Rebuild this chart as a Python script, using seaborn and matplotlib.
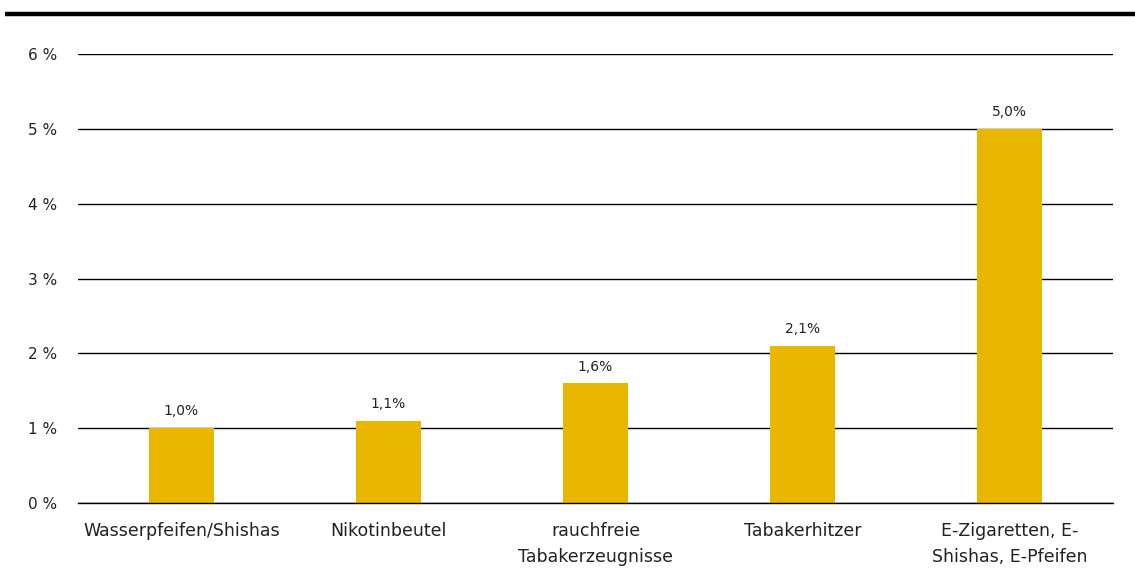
import seaborn as sns
import matplotlib.pyplot as plt
import pandas as pd
from matplotlib.lines import Line2D

categories = ["Wasserpfeifen/Shishas", "Nikotinbeutel", "rauchfreie\nTabakerzeugnisse",
              "Tabakerhitzer", "E-Zigaretten, E-\nShishas, E-Pfeifen"]
values = [1.0, 1.1, 1.6, 2.1, 5.0]
value_labels = ["1,0%", "1,1%", "1,6%", "2,1%", "5,0%"]
yticks = [0, 1, 2, 3, 4, 5, 6]
ytick_labels = ["0 %", "1 %", "2 %", "3 %", "4 %", "5 %", "6 %"]

df = pd.DataFrame({"Kategorie": categories, "Anteil": values})

sns.set_style("white")
plt.rcParams['font.family'] = ['DejaVu Sans']

fig = plt.figure(figsize=(11.35, 5.68), dpi=100)
ax = fig.add_axes([0.0687, 0.1144, 0.9119, 0.7905])

sns.barplot(data=df, x="Kategorie", y="Anteil", color="#E9B600", width=0.315,
            saturation=1, linewidth=0, ax=ax, zorder=3)

ax.set_ylim(0, 6)
ax.set_yticks(yticks)
ax.set_yticklabels(ytick_labels, fontsize=11, color="#222222")
ax.set_xlim(-0.5, len(categories) - 0.5)
ax.yaxis.grid(True, color="black", linewidth=1.0, zorder=1)
ax.set_axisbelow(True)
ax.tick_params(axis="y", length=0, pad=15)
ax.tick_params(axis="x", length=0, pad=14, labelsize=12.5, labelcolor="#222222")
for t in ax.get_xticklabels():
    t.set_linespacing(1.55)
    t.set_verticalalignment("top")
ax.set_xlabel("")
ax.set_ylabel("")
for s in ax.spines.values():
    s.set_visible(False)
ax.spines["bottom"].set_visible(True)
ax.spines["bottom"].set_color("black")
ax.spines["bottom"].set_linewidth(1.0)
ax.spines["bottom"].set_zorder(4)

for i, (v, lab) in enumerate(zip(values, value_labels)):
    ax.annotate(lab, (i, v), xytext=(0, 7), textcoords="offset points",
                ha="center", va="bottom", fontsize=10, color="#222222")

fig.add_artist(Line2D([0.004, 1.0], [0.9754, 0.9754], color="black", linewidth=3.2,
                      solid_capstyle="butt", transform=fig.transFigure))

fig.savefig("out.png", dpi=100)
